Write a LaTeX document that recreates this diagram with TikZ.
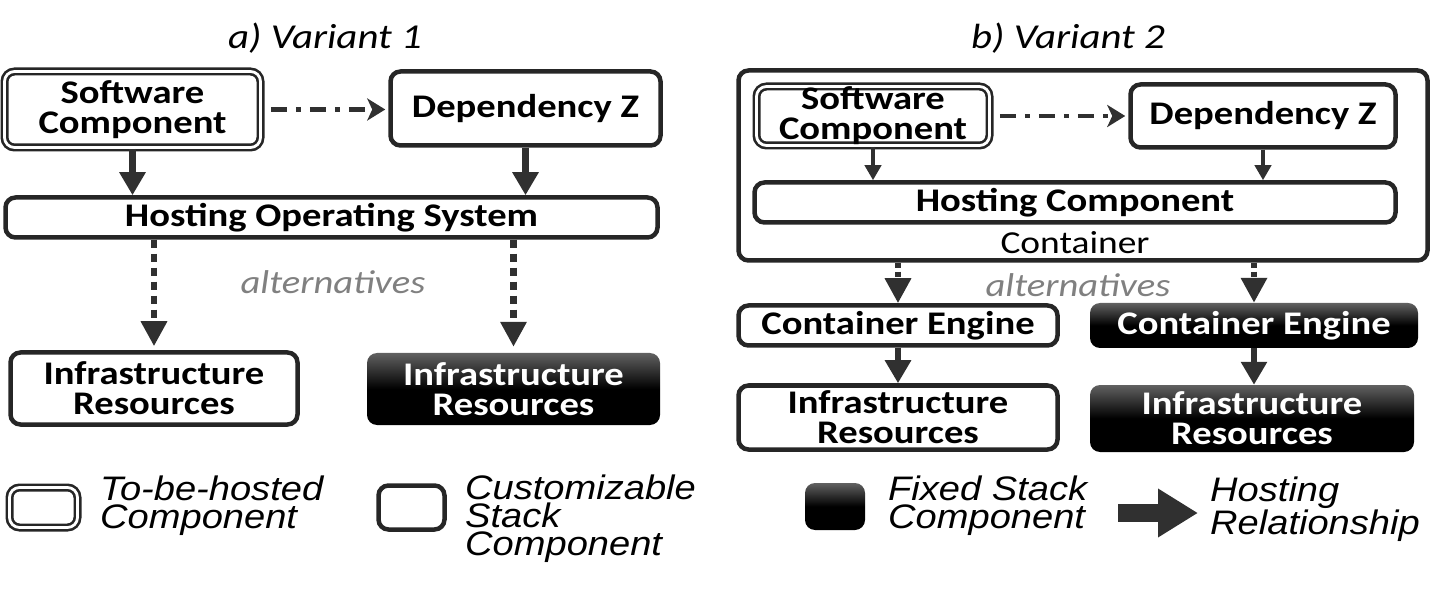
\documentclass[tikz,border=0pt]{standalone}
\usepackage{fontspec}
\setmainfont{Carlito}[FakeStretch=1.17]
\newfontfamily\legfont{Liberation Sans}[FakeStretch=1.12]
\usetikzlibrary{arrows.meta,calc}
\definecolor{ln}{HTML}{262626}
\definecolor{ar}{HTML}{303030}
\definecolor{altgray}{HTML}{808080}
\newcommand{\boxfont}{\bfseries\fontsize{33}{30}\selectfont}
\tikzset{
 box/.style={draw=ln, line width=4.5pt, rounded corners=10pt, fill=white, inner sep=0pt, align=center, font=\boxfont},
 dbox/.style={draw=ln, line width=2.6pt, double=white, double distance=2.8pt, rounded corners=10pt, inner sep=0pt, align=center, font=\boxfont},
 fixbox/.style={rounded corners=10pt, top color=black!62, bottom color=black, middle color=black, inner sep=0pt, align=center, text=white, font=\boxfont},
 hostarrow/.style={draw=ar, line width=6.5pt, -{Triangle[length=23pt,width=25pt]}},
 altarrow/.style={draw=ar, line width=6.5pt, dash pattern=on 8pt off 6pt, -{Triangle[length=25pt,width=25pt]}},
 smallarrow/.style={draw=ar, line width=4pt, -{Triangle[length=15pt,width=16pt]}},
 deparrow/.style={draw=ar, line width=4.5pt, dash pattern=on 16pt off 9pt on 5pt off 9pt, -{Stealth[length=18pt,width=22pt,inset=5pt]}},
 title/.style={font=\itshape\fontsize{35}{40}\selectfont, inner sep=0pt},
 alt/.style={font=\itshape\fontsize{33}{36}\selectfont, text=altgray, inner sep=0pt},
 legtext/.style={font=\legfont\itshape\fontsize{34}{28}\selectfont, align=left, inner sep=0pt, anchor=north west},
}
\begin{document}
\begin{tikzpicture}[x=1pt,y=-1pt]
\useasboundingbox (0,0) rectangle (1448,593);
% ---------- a) Variant 1
\node[title] (ta) at (325,38) {a) Variant 1};
\node[dbox, minimum width=256pt, minimum height=76pt] (lsc) at (132.5,109.5) {Software\\Component};
\node[box, minimum width=270pt, minimum height=74pt] (ldz) at (525.5,108.5) {Dependency Z};
\node[box, minimum width=652pt, minimum height=40pt] (lhos) at (331.5,217.5) {Hosting Operating System};
\node[box, minimum width=287pt, minimum height=72pt] (lirw) at (154,388.5) {Infrastructure\\Resources};
\node[fixbox, minimum width=293pt, minimum height=72pt] (lirb) at (513.5,389) {Infrastructure\\Resources};
\node[alt] (la) at (333,282) {alternatives};
\draw[deparrow, shorten <=9pt, shorten >=3pt] (lsc.east) -- (lsc.east -| ldz.west);
\draw[hostarrow] (lsc.south) -- (lsc.south |- lhos.north);
\draw[hostarrow] (ldz.south) -- (ldz.south |- lhos.north);
\draw[altarrow] (lirw.north |- lhos.south) -- ($(lirw.north)+(0,-4)$);
\draw[altarrow] (lirb.north |- lhos.south) -- ($(lirb.north)+(0,-6)$);
% ---------- b) Variant 2
\node[title] (tb) at (1068,38) {b) Variant 2};
\node[box, fill=none, minimum width=689pt, minimum height=190pt] (rcont) at (1083,165.5) {};
\node[dbox, minimum width=233pt, minimum height=59pt] (rsc) at (873,116) {Software\\Component};
\node[box, minimum width=265pt, minimum height=63pt] (rdz) at (1263,116) {Dependency Z};
\node[box, minimum width=641pt, minimum height=40pt] (rhc) at (1075,202.5) {Hosting Component};
\node[font=\fontsize{32}{34}\selectfont, inner sep=0pt] (rct) at (1075,243) {Container};
\node[box, minimum width=319pt, minimum height=40pt] (rcew) at (898,325.5) {Container Engine};
\node[fixbox, minimum width=328pt, minimum height=45pt] (rceb) at (1254,325.5) {Container Engine};
\node[box, minimum width=319pt, minimum height=64pt] (rirw) at (898,417.5) {Infrastructure\\Resources};
\node[fixbox, minimum width=324pt, minimum height=67pt] (rirb) at (1252,418.5) {Infrastructure\\Resources};
\node[alt] (ra) at (1078,285) {alternatives};
\draw[deparrow, shorten <=9pt, shorten >=3pt] (rsc.east) -- (rsc.east -| rdz.west);
\draw[smallarrow] (rsc.south) -- (rsc.south |- rhc.north);
\draw[smallarrow] (rdz.south) -- (rdz.south |- rhc.north);
\draw[altarrow, dash pattern=on 5pt off 4pt] (rcew.north |- rcont.south) -- (rcew.north);
\draw[altarrow, dash pattern=on 5pt off 4pt] (rceb.north |- rcont.south) -- (rceb.north);
\draw[hostarrow] (rcew.south) -- (rirw.north);
\draw[hostarrow] (rceb.south) -- (rceb.south |- rirb.north);
% ---------- legend
\node[dbox, minimum width=68pt, minimum height=40pt] (g1) at (43.5,507.5) {};
\node[legtext] (g1t) at (100,476) {To-be-hosted\\Component};
\node[box, minimum width=66pt, minimum height=44pt] (g2) at (411.5,507.5) {};
\node[legtext] (g2t) at (465,475) {Customizable\\Stack\\Component};
\node[fixbox, minimum width=60pt, minimum height=47pt] (g3) at (835,506.5) {};
\node[legtext] (g3t) at (888,476) {Fixed Stack\\Component};
\coordinate (g4a) at (1118,513);
\coordinate (g4b) at (1198,513);
\draw[draw=ar, line width=18pt, -{Triangle[length=40pt,width=46pt]}] (g4a) -- (g4b);
\node[legtext] (g4t) at (1210,477) {Hosting\\Relationship};
\end{tikzpicture}
\end{document}
